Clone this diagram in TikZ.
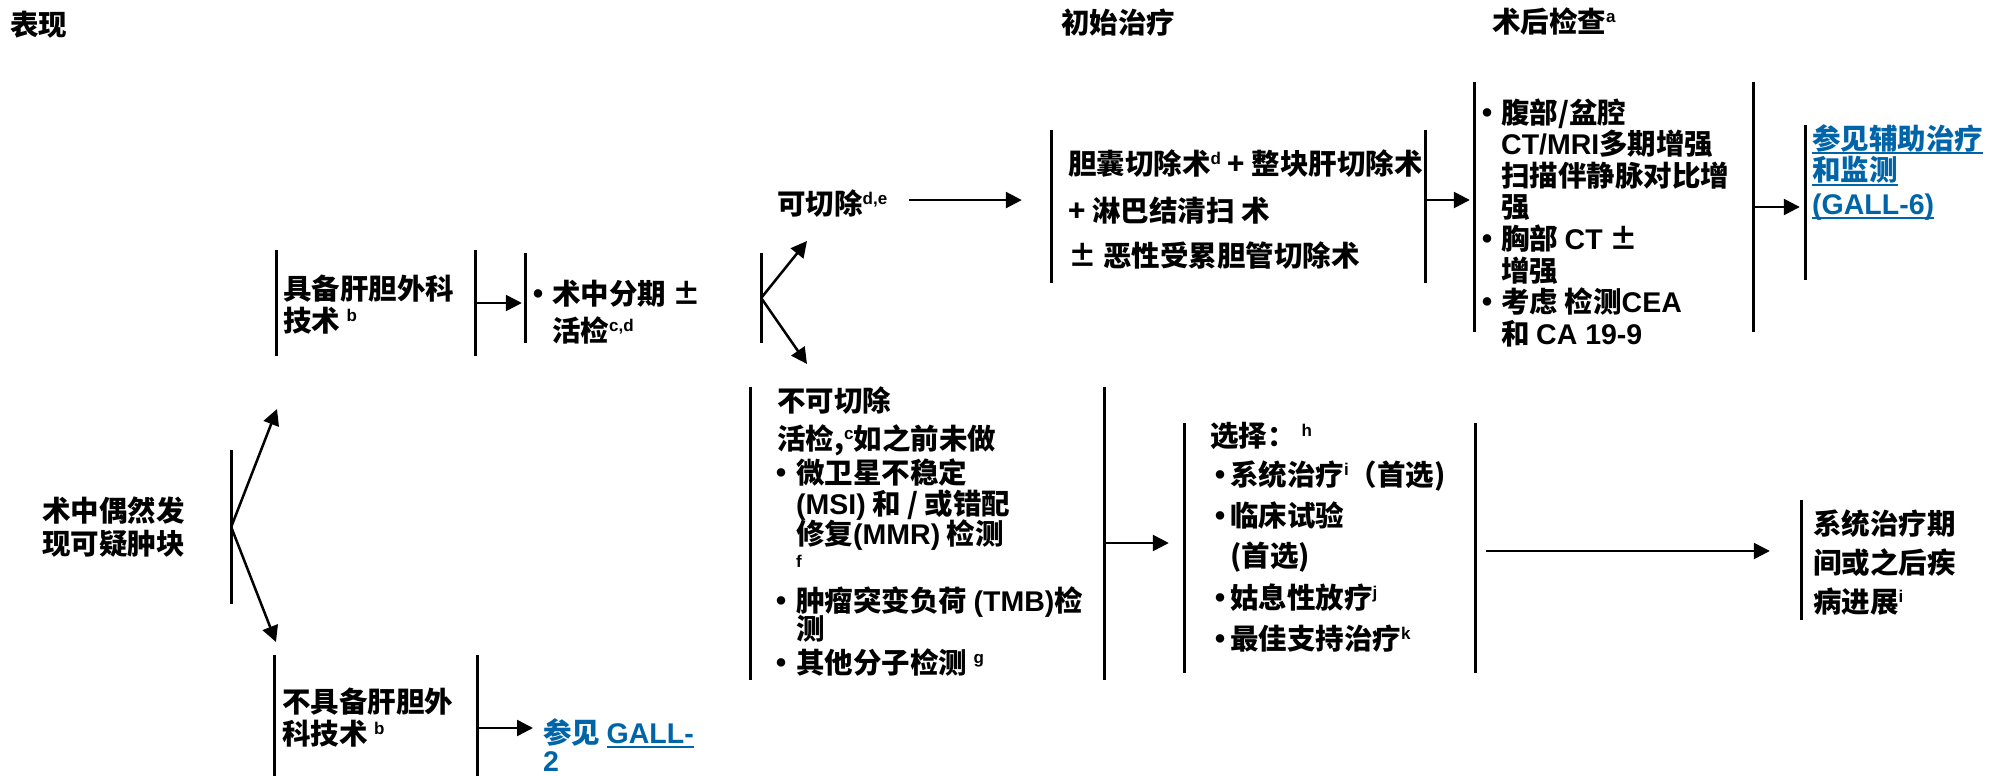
\documentclass[tikz,border=0pt]{standalone}
\usepackage{fontspec}
\usetikzlibrary{arrows.meta,fit,calc}
\newfontfamily\cjk{Noto Sans CJK SC}
\newfontfamily\la{Liberation Sans}
\definecolor{linkblue}{RGB}{0,101,168}
\newcommand\fsmain{\cjk\bfseries\fontsize{28.5}{32}\selectfont}
\newcommand\lat[1]{{\la\bfseries #1}}
\newcommand\supr[1]{\raisebox{10pt}{\la\bfseries\fontsize{17}{17}\selectfont #1}}
\newcommand\bulx[2]{\makebox[#1pt][l]{\hspace{\dimexpr #2pt-4.75pt\relax}\raisebox{7pt}{\fontsize{9.5}{9.5}\selectfont ●}}}
\newcommand\myul[1]{\setbox0\hbox{#1}\rlap{\rule[-5pt]{\wd0}{2.2pt}}\box0}
\newcommand\tlines[1]{\vtop{\baselineskip=0pt\lineskiplimit=-1000pt\lineskip=0pt #1}}
\newcommand\lgap[1]{\vskip#1pt}
\begin{document}
\begin{tikzpicture}[x=1pt,y=-1pt,
  txt/.style={anchor=base west,inner sep=0pt,font=\fsmain},
  bar/.style={line width=3pt},
  arr/.style={line width=2.5pt,-{Triangle[length=16pt,width=16pt]}},
  region/.style={inner sep=0pt,draw=none}]
\useasboundingbox (0,0) rectangle (1990,776);
\clip (0,0) rectangle (1990,776);
\fill[white] (0,0) rectangle (1990,776);

% headers
\node[txt] (h1) at (10,36) {表现};
\node[txt] (h2) at (1061,34) {初始治疗};
\node[txt] (h3) at (1492,33) {术后检查\supr{a}};

% regions (bars)
\node[region,fit={(42,450) (231,604)}] (L) {};
\node[region,fit={(277,250) (475,356)}] (A) {};
\node[region,fit={(526,253) (761,343)}] (B) {};
\node[region,fit={(1052,130) (1425,283)}] (S) {};
\node[region,fit={(1475,82) (1753,332)}] (P) {};
\node[region,fit={(1806,125) (1990,280)}] (G) {};
\node[region,fit={(751,387) (1104,680)}] (U) {};
\node[region,fit={(1185,423) (1475,673)}] (O) {};
\node[region,fit={(1802,500) (1990,620)}] (Q) {};
\node[region,fit={(275,655) (477,801)}] (C) {};

\draw[bar] (L.north east) -- (L.south east);
\foreach \n in {A,B,S,P,U,O,C}{
  \draw[bar] (\n.north west) -- (\n.south west);
  \draw[bar] (\n.north east) -- (\n.south east);}
\draw[bar] (G.north west) -- (G.south west);
\draw[bar] (Q.north west) -- (Q.south west);

% texts
\node[txt] (Lt) at (42,521) {\tlines{\hbox{术中偶然发}\lgap{33}\hbox{现可疑肿块}}};
\node[txt] (At) at (283,299) {\tlines{\hbox{具备肝胆外科}\lgap{32}\hbox{技术 \supr{b}}}};
\node[txt] (Bt) at (537,304) {\tlines{\hbox{\bulx{15}{1}术中分期 ±}\lgap{37}\hbox{\hspace{15pt}活检\supr{c,d}}}};
\node[txt] (R) at (777,214) {可切除\supr{d,e}};
\node[txt] (St) at (1068,174) {\tlines{\hbox{胆囊切除术\supr{d} + 整块肝切除术}\lgap{47}\hbox{+ 淋巴结清扫 术}\lgap{45}\hbox{± 恶性受累胆管切除术}}};
\node[txt] (Pt) at (1482,123) {\tlines{%
  \hbox{\bulx{19}{5}腹部/盆腔}\lgap{31.6}%
  \hbox{\hspace{19pt}\lat{CT/MRI}多期增强}\lgap{31.6}%
  \hbox{\hspace{19pt}扫描伴静脉对比增}\lgap{31.6}%
  \hbox{\hspace{19pt}强}\lgap{31.6}%
  \hbox{\bulx{19}{5}胸部 \lat{CT} ±}\lgap{31.6}%
  \hbox{\hspace{19pt}增强}\lgap{31.6}%
  \hbox{\bulx{19}{5}考虑 检测\lat{CEA}}\lgap{31.6}%
  \hbox{\hspace{19pt}和 \lat{CA 19-9}}}};
\node[txt,text=linkblue] (Gt) at (1812,149) {\tlines{\hbox{\myul{参见辅助治疗}}\lgap{32}\hbox{\myul{和监测}}\lgap{33}\hbox{\myul{\lat{(GALL-6)}}}}};
\node[txt] (Ut) at (777,411) {\tlines{%
  \hbox{不可切除}\lgap{38}%
  \hbox{活检,\supr{c}如之前未做}\lgap{34}%
  \hbox{\bulx{19}{4}微卫星不稳定}\lgap{31}%
  \hbox{\hspace{19pt}\lat{(MSI)} 和 / 或错配}\lgap{30}%
  \hbox{\hspace{19pt}修复\lat{(MMR)} 检测}\lgap{23}%
  \hbox{\hspace{19pt}{\la\bfseries\fontsize{17}{17}\selectfont f}}\lgap{44}%
  \hbox{\bulx{19}{4}肿瘤突变负荷 \lat{(TMB)}检}\lgap{28}%
  \hbox{\hspace{19pt}测}\lgap{34}%
  \hbox{\bulx{19}{4}其他分子检测 \supr{g}}}};
\node[txt] (Ot) at (1210,446) {\tlines{%
  \hbox{选择：\hspace{6pt}\supr{h}}\lgap{39}%
  \hbox{\bulx{20}{10}系统治疗\supr{i}（首选)}\lgap{41}%
  \hbox{\bulx{20}{10}临床试验}\lgap{40}%
  \hbox{\hspace{20pt}(首选)}\lgap{42}%
  \hbox{\bulx{20}{10}姑息性放疗\supr{j}}\lgap{41}%
  \hbox{\bulx{20}{10}最佳支持治疗\supr{k}}}};
\node[txt] (Qt) at (1813,534) {\tlines{\hbox{系统治疗期}\lgap{39}\hbox{间或之后疾}\lgap{39}\hbox{病进展\supr{i}}}};
\node[txt] (Ct) at (282,712) {\tlines{\hbox{不具备肝胆外}\lgap{32}\hbox{科技术 \supr{b}}}};
\node[txt,text=linkblue] (GL) at (543,743) {\tlines{\hbox{参见 \myul{\lat{GALL-}}}\lgap{28}\hbox{\lat{2}}}};

% connectors
\coordinate (tA) at (277,409);
\coordinate (tC) at (276,642);
\coordinate (tR) at (807,241);
\coordinate (tU) at (807,364);
\draw[arr] (L.east) -- (tA);
\draw[arr] (L.east) -- (tC);
\draw[arr] (A.east) -- ($(A.east -| B.west)+(-4,0)$);
\draw[arr] (B.east) -- (tR);
\draw[arr] (B.east) -- (tU);
\draw[arr] ($(R.east -| S.west)+(-143,-3)$) -- ($(R.east -| S.west)+(-30,-3)$);
\draw[arr] ($(S.east)+(0,-6.5)$) -- ($(S.east -| P.west)+(-5,-6.5)$);
\draw[arr] (P.east) -- ($(P.east -| G.west)+(-6,0)$);
\draw[arr] ($(U.east)+(0,9.5)$) -- ($(U.east -| O.west)+(-16,9.5)$);
\draw[arr] ($(O.east)+(11,3)$) -- ($(O.east -| Q.west)+(-32,3)$);
\draw[arr] (C.east) -- ($(C.east -| GL.west)+(-10,0)$);
\end{tikzpicture}
\end{document}
